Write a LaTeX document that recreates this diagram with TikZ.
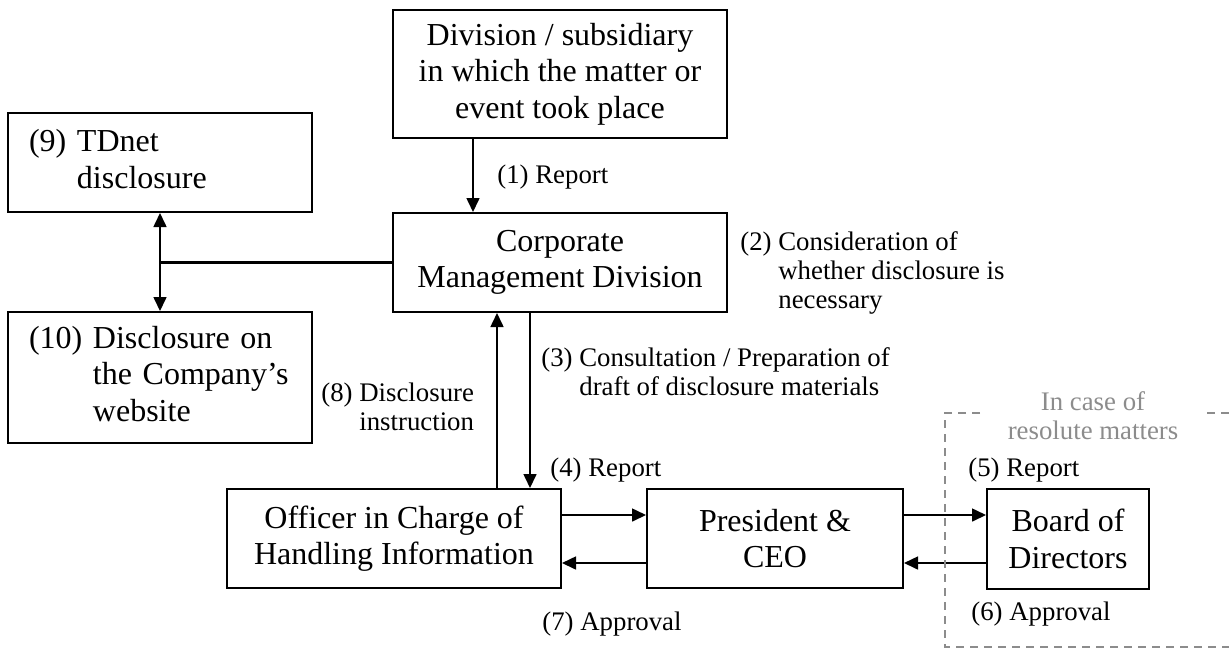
\documentclass[tikz,border=0pt]{standalone}
\usepackage{fontspec}
\setmainfont{Liberation Serif}
\usetikzlibrary{arrows.meta}

\newcommand{\bigtext}{\fontsize{16}{18.25}\selectfont}
\newcommand{\smalltext}{\fontsize{13.4}{14.5}\selectfont}
\newcommand{\numlabel}[2]{#1~\begin{tabular}[t]{@{}l@{}}#2\end{tabular}}

\begin{document}
\begin{tikzpicture}[x=0.5pt,y=-0.5pt,
  box/.style={draw,line width=1pt,minimum height=49.5pt,inner sep=0pt,align=center,font=\bigtext},
  listbox/.style={box,align=left,text width=131pt,inner xsep=10.5pt},
  flow/.style={-{Triangle[length=7pt,width=6.5pt]},line width=0.8pt},
  both/.style={{Triangle[length=7pt,width=6.5pt]}-{Triangle[length=7pt,width=6.5pt]},line width=0.8pt},
  note/.style={anchor=base west,inner sep=0pt,font=\smalltext},
  frame/.style={draw=black!45,line width=0.7pt,dash pattern=on 4pt off 3pt}]

\useasboundingbox (0,0) rectangle (1229,649);

% Boxes
\node[box,minimum width=167pt,minimum height=64pt] (event) at (560,74) {Division / subsidiary\\in which the matter or\\event took place};
\node[box,minimum width=167pt] (cmd) at (560,262.5) {Corporate\\Management Division};
\node[listbox] (tdnet) at (160,162.5) {\numlabel{(9)}{TDnet\\disclosure}};
\node[listbox,minimum height=65.5pt] (web) at (160,377.5) {\numlabel{(10)}{Disclosure on\\the Company's\\website}};
\node[box,minimum width=167pt] (officer) at (394,538.5) {Officer in Charge of\\Handling Information};
\node[box,minimum width=128pt] (ceo) at (775,538.5) {President \&\\CEO};
\node[box,minimum width=81pt,minimum height=50pt] (board) at (1068,539) {Board of\\Directors};

% Where the arrows run
\coordinate (x1) at (473,0);
\coordinate (x8) at (497,0);
\coordinate (x3) at (530,0);
\coordinate (yup) at (0,515);
\coordinate (ydown) at (0,563);

% Arrows
\draw[flow] (event.south -| x1) -- (cmd.north -| x1);
\draw[flow] (cmd.south -| x3) -- (officer.north -| x3);
\draw[flow] (officer.north -| x8) -- (cmd.south -| x8);
\draw[flow] (officer.east |- yup) -- (ceo.west |- yup);
\draw[flow] (ceo.west |- ydown) -- (officer.east |- ydown);
\draw[flow] (ceo.east |- yup) -- (board.west |- yup);
\draw[flow] (board.west |- ydown) -- (ceo.east |- ydown);
\draw[both] (tdnet.south) -- (web.north);
\draw[line width=1.1pt] (cmd.west) -- (cmd.west -| tdnet.south);

% Resolute matters frame
\draw[frame] (980,413) -- (945,413) -- (945,647) -- (1229,647);
\draw[frame] (1207,413) -- (1229,413);
\node[note,anchor=base,text=black!45] (resolute) at (1093,410) {\begin{tabular}[t]{@{}c@{}}In case of\\resolute matters\end{tabular}};

% Step labels
\node[note] (step1) at (497,183) {(1) Report};
\node[note] (step2) at (740,250) {\numlabel{(2)}{Consideration of\\whether disclosure is\\necessary}};
\node[note] (step3) at (541,366) {\numlabel{(3)}{Consultation / Preparation of\\draft of disclosure materials}};
\node[note] (step4) at (550,476) {(4) Report};
\node[note] (step5) at (968,476) {(5) Report};
\node[note] (step6) at (971,620) {(6) Approval};
\node[note] (step7) at (542,630) {(7) Approval};
\node[note] (step8) at (321,401) {\numlabel{(8)}{Disclosure\\instruction}};

\end{tikzpicture}
\end{document}
